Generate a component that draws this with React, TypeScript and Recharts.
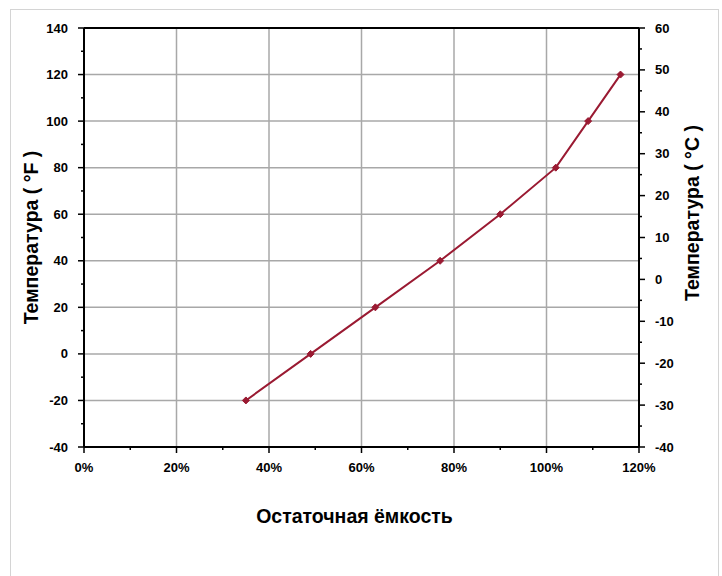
import React from 'react';
import { LineChart, Line, XAxis, YAxis, ReferenceLine } from 'recharts';

// residual capacity (%) vs temperature (°F)
const capacity = [35, 49, 63, 77, 90, 102, 109, 116];
const tempF = [-20, 0, 20, 40, 60, 80, 100, 120];

const xTicks = [0, 10, 20, 30, 40, 50, 60, 70, 80, 90, 100, 110, 120];
const fTicks = [-40, -30, -20, -10, 0, 10, 20, 30, 40, 50, 60, 70, 80, 90, 100, 110, 120, 130, 140];
const cTicks = [-40, -35, -30, -25, -20, -15, -10, -5, 0, 5, 10, 15, 20, 25, 30, 35, 40, 45, 50, 55, 60];
const xGrid = [20, 40, 60, 80, 100];
const fGrid = [-20, 0, 20, 40, 60, 80, 100, 120];

const data = capacity.map((c, i) => ({ capacity: c, tempF: tempF[i] }));

const lineColor = '#9a1a32';
const tickFont = { fontFamily: 'Liberation Sans, Arial, sans-serif', fontSize: 13, fontWeight: 700, fill: '#000' };
const titleFont = { fontFamily: 'Liberation Sans, Arial, sans-serif', fontSize: 19.5, fontWeight: 700, fill: '#000' };

const LeftTick = (props: any) => {
  const { x, y, payload } = props;
  const major = payload.value % 20 === 0;
  return (
    <g>
      <line x1={x - (major ? 6 : 3)} x2={x} y1={y} y2={y} stroke="#000" strokeWidth={1.5} />
      {major && (
        <text x={x - 16} y={y} dy={4.5} textAnchor="end" {...tickFont}>{payload.value}</text>
      )}
    </g>
  );
};

const RightTick = (props: any) => {
  const { x, y, payload } = props;
  const major = payload.value % 10 === 0;
  return (
    <g>
      <line x1={x} x2={x + (major ? 6 : 3)} y1={y} y2={y} stroke="#000" strokeWidth={1.5} />
      {major && (
        <text x={x + 16} y={y} dy={4.5} textAnchor="start" {...tickFont}>{payload.value}</text>
      )}
    </g>
  );
};

const BottomTick = (props: any) => {
  const { x, y, payload } = props;
  const major = payload.value % 20 === 0;
  return (
    <g>
      <line x1={x} x2={x} y1={y} y2={y + (major ? 6 : 3)} stroke="#000" strokeWidth={1.5} />
      {major && (
        <text x={x} y={y + 25} textAnchor="middle" {...tickFont}>{payload.value}%</text>
      )}
    </g>
  );
};

const Diamond = (props: any) => {
  const { cx, cy } = props;
  if (cx == null || cy == null) return null;
  const s = 3.5;
  return <path d={`M${cx},${cy - s}L${cx + s},${cy}L${cx},${cy + s}L${cx - s},${cy}Z`} fill={lineColor} stroke={lineColor} />;
};

export default function App() {
  return (
    <div style={{ position: 'absolute', left: 0, top: 0, width: 722, height: 576, background: '#fff', overflow: 'hidden' }}>
      <div style={{ position: 'absolute', left: 10, top: 9, width: 707, height: 620, border: '1px solid #d4d4d4' }} />
      <div style={{ position: 'absolute', left: 0, top: 0 }}>
        <LineChart width={722} height={576} data={data} margin={{ top: 28, right: 0, bottom: 0, left: 0 }}>
          <XAxis
            type="number"
            dataKey="capacity"
            domain={[0, 120]}
            ticks={xTicks}
            interval={0}
            height={129}
            tickSize={0}
            tickMargin={0}
            tickLine={false}
            axisLine={{ stroke: '#000', strokeWidth: 2 }}
            tick={<BottomTick />}
            label={{
              content: ({ viewBox }: any) => (
                <text x={viewBox.x + viewBox.width / 2 - 7} y={viewBox.y + 76} textAnchor="middle" {...titleFont}>
                  Остаточная ёмкость
                </text>
              ),
            }}
          />
          <YAxis
            yAxisId="f"
            type="number"
            domain={[-40, 140]}
            ticks={fTicks}
            interval={0}
            width={84}
            tickSize={0}
            tickMargin={0}
            tickLine={false}
            axisLine={{ stroke: '#000', strokeWidth: 2 }}
            tick={<LeftTick />}
            label={{
              content: ({ viewBox }: any) => (
                <text
                  x={38}
                  y={viewBox.y + viewBox.height / 2}
                  textAnchor="middle"
                  transform={`rotate(-90 38 ${viewBox.y + viewBox.height / 2})`}
                  {...titleFont}
                >
                  Температура ( °F )
                </text>
              ),
            }}
          />
          <YAxis
            yAxisId="c"
            orientation="right"
            type="number"
            domain={[-40, 60]}
            allowDataOverflow
            ticks={cTicks}
            interval={0}
            width={83}
            tickSize={0}
            tickMargin={0}
            tickLine={false}
            axisLine={{ stroke: '#000', strokeWidth: 2 }}
            tick={<RightTick />}
            label={{
              content: ({ viewBox }: any) => (
                <text
                  x={viewBox.x + 60}
                  y={213}
                  textAnchor="middle"
                  transform={`rotate(-90 ${viewBox.x + 60} 213)`}
                  {...titleFont}
                >
                  Температура ( °C )
                </text>
              ),
            }}
          />
          {xGrid.map((v) => (
            <ReferenceLine key={`vx${v}`} yAxisId="f" x={v} stroke="#a8a8a8" strokeWidth={1.5} />
          ))}
          {fGrid.map((v) => (
            <ReferenceLine key={`hy${v}`} yAxisId="f" y={v} stroke="#a8a8a8" strokeWidth={1.5} />
          ))}
          <ReferenceLine yAxisId="f" y={140} stroke="#000" strokeWidth={2} />
          {/* empty series so the °C axis is drawn */}
          <Line yAxisId="c" dataKey="tempC" stroke="none" dot={false} activeDot={false} isAnimationActive={false} />
          <Line
            yAxisId="f"
            type="linear"
            dataKey="tempF"
            stroke={lineColor}
            strokeWidth={2}
            dot={<Diamond />}
            activeDot={false}
            isAnimationActive={false}
          />
        </LineChart>
      </div>
    </div>
  );
}
